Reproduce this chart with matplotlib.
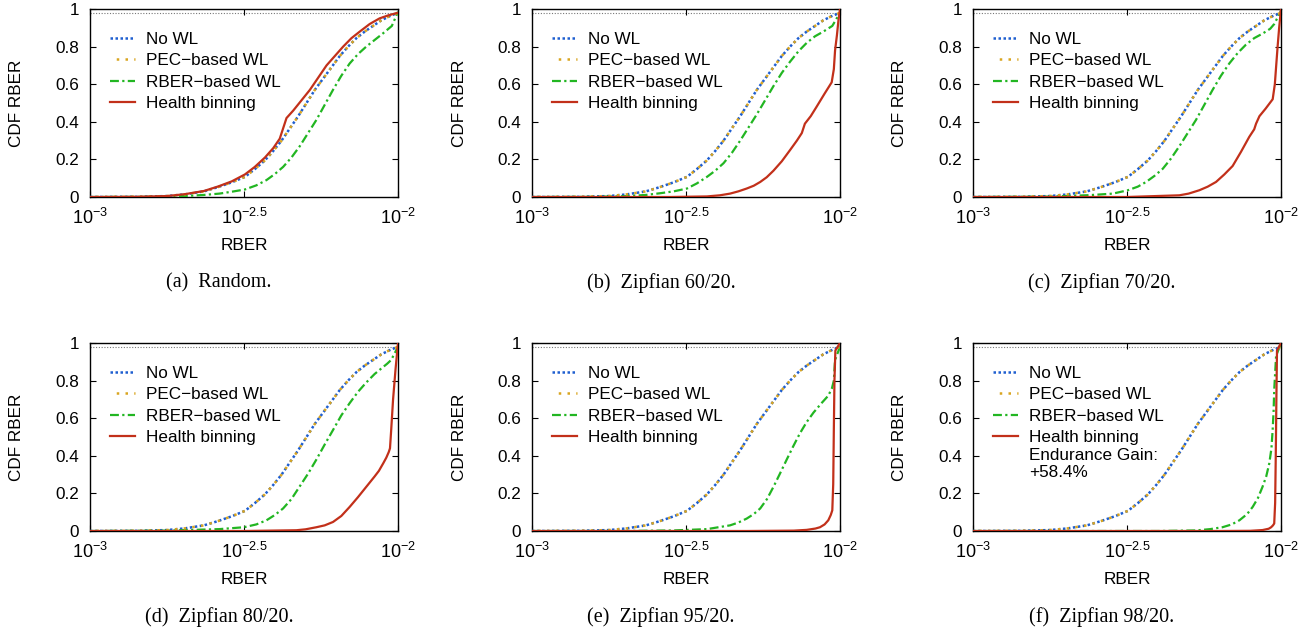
#!/usr/bin/env python3

import matplotlib
matplotlib.use("Agg")
import matplotlib.pyplot as plt
import matplotlib.ticker as ticker
import numpy as np

# x values are log10(RBER), y values are CDF
# No WL / PEC-based WL look the same in every panel
nowl_x = [-3.0, -2.85, -2.75, -2.692, -2.63, -2.584, -2.54, -2.497, -2.465, -2.432,
          -2.405, -2.378, -2.351, -2.324, -2.297, -2.27, -2.243, -2.216, -2.189,
          -2.162, -2.135, -2.108, -2.081, -2.054, -2.027, -2.0]
nowl_y = [0.0, 0.001, 0.005, 0.014, 0.03, 0.053, 0.078, 0.107, 0.148, 0.195,
          0.245, 0.30, 0.365, 0.43, 0.50, 0.57, 0.63, 0.69, 0.75,
          0.80, 0.845, 0.88, 0.91, 0.94, 0.962, 0.98]
pec_x = nowl_x
pec_y = nowl_y

# RBER-based WL, one per panel
rber_a_x = [-3.0, -2.8, -2.69, -2.63, -2.58, -2.54, -2.497, -2.46, -2.427, -2.4,
            -2.373, -2.346, -2.319, -2.292, -2.265, -2.238, -2.211, -2.184, -2.157,
            -2.13, -2.103, -2.076, -2.049, -2.02, -2.0]
rber_a_y = [0.0, 0.001, 0.005, 0.011, 0.018, 0.028, 0.04, 0.062, 0.09, 0.122,
            0.16, 0.21, 0.27, 0.34, 0.41, 0.49, 0.57, 0.645, 0.71,
            0.76, 0.80, 0.835, 0.87, 0.91, 0.985]
rber_b_x = [-3.0, -2.8, -2.7, -2.63, -2.584, -2.54, -2.497, -2.465, -2.432, -2.405,
            -2.378, -2.351, -2.324, -2.297, -2.27, -2.243, -2.216, -2.189, -2.162,
            -2.135, -2.108, -2.081, -2.054, -2.025, -2.0]
rber_b_y = [0.0, 0.001, 0.004, 0.011, 0.02, 0.03, 0.045, 0.072, 0.107, 0.14,
            0.18, 0.235, 0.30, 0.37, 0.44, 0.515, 0.59, 0.66, 0.72,
            0.775, 0.82, 0.855, 0.88, 0.91, 0.98]
rber_c_x = [-3.0, -2.75, -2.62, -2.546, -2.497, -2.465, -2.438, -2.411, -2.384,
            -2.357, -2.33, -2.303, -2.276, -2.249, -2.222, -2.195, -2.168, -2.141,
            -2.114, -2.087, -2.059, -2.035, -2.022, -2.0]
rber_c_y = [0.0, 0.002, 0.01, 0.018, 0.036, 0.055, 0.08, 0.112, 0.15, 0.205,
            0.27, 0.34, 0.41, 0.49, 0.57, 0.645, 0.71, 0.765,
            0.81, 0.845, 0.87, 0.895, 0.92, 0.99]
rber_d_x = [-3.0, -2.75, -2.58, -2.5, -2.46, -2.427, -2.4, -2.373, -2.346, -2.32,
            -2.292, -2.265, -2.238, -2.21, -2.184, -2.157, -2.13, -2.103, -2.076,
            -2.05, -2.035, -2.022, -2.0]
rber_d_y = [0.0, 0.002, 0.01, 0.02, 0.035, 0.057, 0.085, 0.12, 0.17, 0.235,
            0.305, 0.38, 0.46, 0.54, 0.615, 0.68, 0.74, 0.79, 0.835,
            0.87, 0.89, 0.91, 0.98]
rber_e_x = [-3.0, -2.7, -2.54, -2.432, -2.357, -2.33, -2.303, -2.28, -2.259,
            -2.237, -2.216, -2.195, -2.173, -2.152, -2.13, -2.108, -2.086, -2.06,
            -2.038, -2.026, -2.02, -2.016, -2.0]
rber_e_y = [0.0, 0.0, 0.003, 0.01, 0.03, 0.045, 0.066, 0.09, 0.12, 0.17,
            0.235, 0.305, 0.38, 0.45, 0.52, 0.58, 0.63, 0.68,
            0.72, 0.76, 0.80, 0.91, 0.98]
rber_f_x = [-3.0, -2.4, -2.276, -2.23, -2.19, -2.16, -2.135, -2.11, -2.092, -2.075,
            -2.06, -2.048, -2.038, -2.031, -2.027, -2.024, -2.022, -2.019, -2.016,
            -2.0]
rber_f_y = [0.0, 0.0, 0.003, 0.01, 0.02, 0.035, 0.057, 0.09, 0.128, 0.175,
            0.235, 0.29, 0.36, 0.44, 0.54, 0.64, 0.75, 0.84, 0.93,
            1.0]

# Health binning, one per panel
hb_a_x = [-3.0, -2.85, -2.75, -2.692, -2.63, -2.584, -2.54, -2.497, -2.465, -2.432,
          -2.405, -2.384, -2.374, -2.362, -2.34, -2.313, -2.286, -2.259, -2.232,
          -2.205, -2.178, -2.151, -2.124, -2.092, -2.06, -2.03, -2.0]
hb_a_y = [0.0, 0.001, 0.005, 0.015, 0.032, 0.056, 0.083, 0.12, 0.16, 0.21,
          0.26, 0.31, 0.36, 0.42, 0.46, 0.515, 0.57, 0.635, 0.70,
          0.75, 0.80, 0.845, 0.88, 0.92, 0.95, 0.967, 0.98]
hb_b_x = [-3.0, -2.55, -2.432, -2.39, -2.357, -2.33, -2.303, -2.28, -2.259, -2.238,
          -2.216, -2.189, -2.162, -2.14, -2.124, -2.114, -2.095, -2.076, -2.05,
          -2.027, -2.02, -2.016, -2.01, -2.005, -2.0]
hb_b_y = [0.0, 0.0, 0.003, 0.009, 0.018, 0.03, 0.045, 0.06, 0.08, 0.105,
          0.14, 0.19, 0.25, 0.30, 0.34, 0.39, 0.43, 0.48, 0.55,
          0.61, 0.68, 0.78, 0.86, 0.94, 1.0]
hb_c_x = [-3.0, -2.5, -2.33, -2.3, -2.265, -2.238, -2.211, -2.184, -2.157, -2.13,
          -2.103, -2.087, -2.081, -2.07, -2.05, -2.027, -2.02, -2.016, -2.011,
          -2.006, -2.0]
hb_c_y = [0.0, 0.0, 0.009, 0.018, 0.036, 0.055, 0.08, 0.12, 0.165, 0.24,
          0.32, 0.36, 0.39, 0.43, 0.47, 0.52, 0.6, 0.69, 0.8,
          0.9, 1.0]
hb_d_x = [-3.0, -2.5, -2.33, -2.3, -2.265, -2.238, -2.211, -2.184, -2.157, -2.13,
          -2.103, -2.076, -2.062, -2.048, -2.038, -2.03, -2.026, -2.022, -2.016,
          -2.008, -2.0]
hb_d_y = [0.0, 0.0, 0.004, 0.009, 0.02, 0.03, 0.048, 0.08, 0.128, 0.18,
          0.235, 0.29, 0.32, 0.36, 0.39, 0.42, 0.44, 0.54, 0.7,
          0.86, 1.0]
hb_e_x = [-3.0, -2.3, -2.15, -2.108, -2.08, -2.065, -2.05, -2.038, -2.03, -2.025,
          -2.022, -2.02, -2.018, -2.015, -2.0]
hb_e_y = [0.0, 0.0, 0.002, 0.006, 0.013, 0.02, 0.035, 0.057, 0.085, 0.11,
          0.25, 0.54, 0.8, 0.96, 1.0]
hb_f_x = [-3.0, -2.2, -2.1, -2.06, -2.04, -2.032, -2.026, -2.022, -2.019, -2.017,
          -2.015, -2.013, -2.0]
hb_f_y = [0.0, 0.0, 0.001, 0.005, 0.012, 0.02, 0.03, 0.04, 0.15, 0.4,
          0.7, 0.96, 1.0]

rber_x = [rber_a_x, rber_b_x, rber_c_x, rber_d_x, rber_e_x, rber_f_x]
rber_y = [rber_a_y, rber_b_y, rber_c_y, rber_d_y, rber_e_y, rber_f_y]
hb_x = [hb_a_x, hb_b_x, hb_c_x, hb_d_x, hb_e_x, hb_f_x]
hb_y = [hb_a_y, hb_b_y, hb_c_y, hb_d_y, hb_e_y, hb_f_y]

captions = ["(a)  Random.", "(b)  Zipfian 60/20.", "(c)  Zipfian 70/20.",
            "(d)  Zipfian 80/20.", "(e)  Zipfian 95/20.", "(f)  Zipfian 98/20."]
labels = ["No WL", "PEC\u2212based WL", "RBER\u2212based WL", "Health binning"]
xticks = [1e-3, 10 ** -2.5, 1e-2]
xticklabels = [r"$\mathregular{10^{-3}}$", r"$\mathregular{10^{-2.5}}$",
               r"$\mathregular{10^{-2}}$"]
yticks = [0, 0.2, 0.4, 0.6, 0.8, 1]
yticklabels = ["0", "0.2", "0.4", "0.6", "0.8", "1"]
threshold = 0.98

c_blue = "#1f5fd0"
c_orange = "#d9a520"
c_green = "#22b622"
c_red = "#c2301a"

fs = 12.3
plt.rcParams["font.family"] = "Liberation Sans"
plt.rcParams["font.size"] = fs

W, H = 1312, 634
fig = plt.figure(figsize=(W / 100, H / 100), dpi=100)

lefts = [90, 532, 973]
tops = [9, 343]
aw, ah = 308, 188

for i in range(6):
    row, col = divmod(i, 3)
    l = lefts[col]
    t = tops[row]
    ax = fig.add_axes([l / W, 1 - (t + ah) / H, aw / W, ah / H])

    ax.axhline(threshold, color="#777777", lw=0.8, ls=(0, (1, 1.5)), zorder=1)

    ax.plot(10 ** np.array(nowl_x), nowl_y, color=c_blue, lw=1.8,
            ls=(0, (1, 1)), label=labels[0], zorder=3)
    ax.plot(10 ** np.array(pec_x), pec_y, color=c_orange, lw=1.8,
            ls=(1, (1, 2.5)), label=labels[1], zorder=4)
    ax.plot(10 ** np.array(rber_x[i]), rber_y[i], color=c_green, lw=1.6,
            ls=(0, (4, 1.5, 1, 1.5)), label=labels[2], zorder=3)
    ax.plot(10 ** np.array(hb_x[i]), hb_y[i], color=c_red, lw=1.6,
            label=labels[3], zorder=5)

    ax.set_xscale("log")
    ax.set_xlim(1e-3, 1e-2)
    ax.set_ylim(0, 1)
    ax.xaxis.set_major_locator(ticker.FixedLocator(xticks))
    ax.xaxis.set_minor_locator(ticker.NullLocator())
    ax.set_xticks(xticks)
    ax.set_xticklabels(xticklabels)
    ax.set_yticks(yticks)
    ax.set_yticklabels(yticklabels)
    ax.tick_params(direction="in", top=True, right=True, length=4, width=0.8,
                   labelsize=fs)
    ax.tick_params(axis="y", pad=8)
    ax.tick_params(axis="x", pad=8, labelsize=fs + 0.7)
    for s in ax.spines.values():
        s.set_linewidth(1.0)

    ax.set_xlabel("RBER", fontsize=fs, va="center")
    ax.set_ylabel("CDF RBER", fontsize=fs, va="center")
    ax.xaxis.set_label_coords(0.5, (197 - 245) / ah)
    ax.yaxis.set_label_coords((17 - 90) / aw, 0.5)

    ax.legend(loc="upper left", bbox_to_anchor=(0.065, 0.877), frameon=False,
              borderpad=0, borderaxespad=0, handlelength=1.46,
              handletextpad=0.64, labelspacing=0.37, fontsize=fs)
    if i == 5:
        ax.text(0.182, 0.404, "Endurance Gain:", transform=ax.transAxes,
                fontsize=fs, va="center", ha="left")
        ax.text(0.182, 0.309, "+58.4%", transform=ax.transAxes,
                fontsize=fs, va="center", ha="left")

    cx = (l - 90 + 219) / W
    fig.text(cx, 1 - (t + 274) / H, captions[i], family="Liberation Serif",
             fontsize=14.5, ha="center", va="center")

fig.savefig("out.png", dpi=100)
